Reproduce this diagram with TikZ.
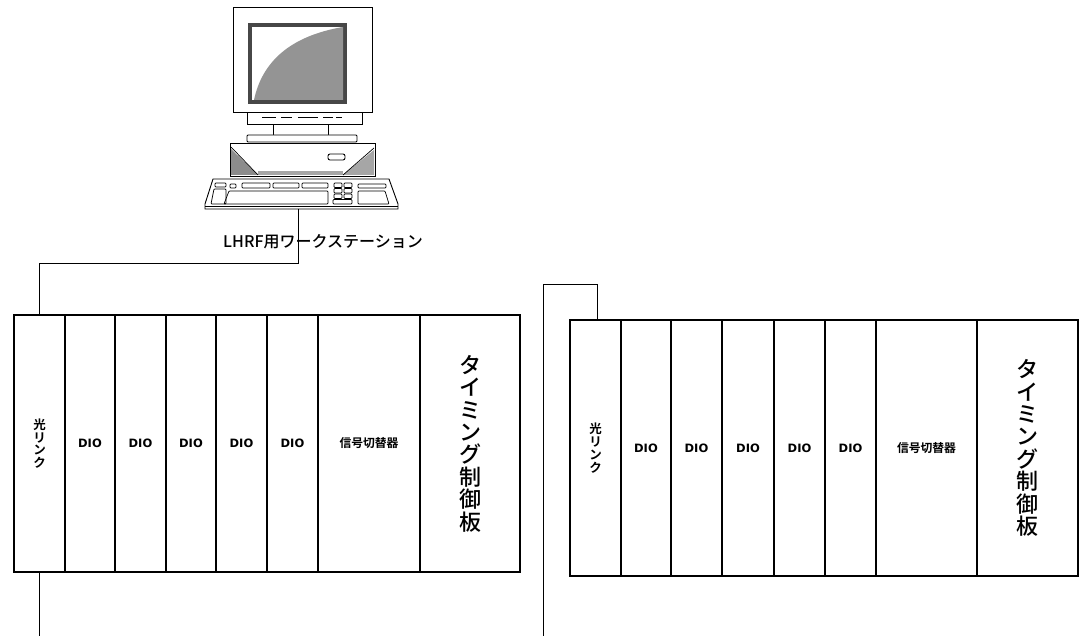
\documentclass[tikz,border=0pt]{standalone}
\usepackage{fontspec}
\newfontfamily\jpm{Noto Sans CJK JP Medium}
\newfontfamily\jpb{Noto Sans CJK JP Bold}
\newfontfamily\dv{DejaVu Sans}
\begin{document}
\begin{tikzpicture}[x=1pt,y=-1pt,
  pc/.style={draw=black,line width=0.9pt},
  keyb/.style={draw=black,line width=0.7pt,rounded corners=0.8pt},
  wire/.style={draw=black,line width=0.8pt},
  slot/.style={draw=black,line width=1.5pt,inner sep=0pt,outer sep=0pt,anchor=north west},
  rackL/.style={slot,minimum height=257pt},
  rackR/.style={slot,minimum height=256pt},
  diolbl/.style={font=\dv\bfseries\fontsize{11.5}{13}\selectfont},
  swlbl/.style={font=\jpb\fontsize{11.8}{13}\selectfont},
  linklbl/.style={font=\jpb\fontsize{12.5}{12.8}\selectfont,align=center},
  timlbl/.style={font=\jpm\fontsize{22}{22.4}\selectfont,align=center},
]
\useasboundingbox (0,0) rectangle (1080,636);
\fill[white] (0,0) rectangle (1080,636);

% ---------- workstation: monitor ----------
\draw[pc,fill=white] (233,7) rectangle (372,112);
\fill[black!72] (248,23) rectangle (347,104);
\fill[white] (252,27) rectangle (343,100);
\fill[black!42] (254,100) .. controls (262,62) and (290,36) .. (343,27) -- (343,100) -- cycle;
\draw[pc,fill=white] (247,112) rectangle (362,124);
\foreach \xa/\xb in {262/276,281/292,298/318,323/333,336/342}
  \draw[line width=1.4pt] (\xa,117.5) -- (\xb,117.5);
\draw[pc,fill=white] (273,124) rectangle (328,135);
\draw[pc,fill=white,rounded corners=1pt] (247,135) rectangle (357,142);

% ---------- workstation: system unit ----------
\draw[pc,fill=white] (230,143) rectangle (375,176);
\fill[black!45] (231,149) -- (258,175) -- (231,175) -- cycle;
\fill[black!35] (374,150) -- (374,175) -- (343,175) -- cycle;
\fill[black!35] (258,171) rectangle (343,175);
\draw[line width=0.7pt] (231,147) -- (258,175);
\draw[line width=0.7pt] (374,148) -- (343,175);
\draw[pc,rounded corners=2pt] (328,154) rectangle (345,160);

% ---------- workstation: keyboard ----------
\draw[pc,fill=white] (213,179) -- (389,179) -- (398,204) -- (398,209) -- (205,209) -- (205,204) -- cycle;
\draw[line width=0.7pt] (205,206) -- (398,206);
\draw[keyb] (215,183) rectangle (226,187);
\draw[keyb] (214,189) -- (226,189) -- (226,204) -- (211,204) -- cycle;
\draw[keyb] (230,184) rectangle (236,188);
\draw[keyb] (242,183) rectangle (270,188);
\draw[keyb] (273,183) rectangle (299,188);
\draw[keyb] (302,183) rectangle (328,188);
\draw[keyb] (229,191) -- (328,191) -- (328,204) -- (224,204) -- cycle;
\foreach \yy in {183,188.5,194}{
  \draw[keyb] (334,\yy) rectangle (342,\yy+4.5);
  \draw[keyb] (344,\yy) rectangle (352,\yy+4.5);
}
\draw[keyb] (333,199.5) rectangle (352,204);
\draw[keyb] (358,184) rectangle (386,188);
\draw[keyb] (358,191) -- (385,191) -- (389,204) -- (358,204) -- cycle;

\coordinate (wsport) at (298,209);

% ---------- left rack ----------
\node[rackL,minimum width=51pt]  (lk1) at (14,315)  {};
\node[linklbl] at (lk1.center) {光\\リ\\ン\\ク};
\node[rackL,minimum width=50pt]  (ld1) at (65,315)  {};
\node[rackL,minimum width=51pt]  (ld2) at (115,315) {};
\node[rackL,minimum width=50pt]  (ld3) at (166,315) {};
\node[rackL,minimum width=51pt]  (ld4) at (216,315) {};
\node[rackL,minimum width=51pt]  (ld5) at (267,315) {};
\node[rackL,minimum width=102pt] (lsw) at (318,315) {};
\node[rackL,minimum width=100pt] (ltm) at (420,315) {};
\foreach \n in {ld1,ld2,ld3,ld4,ld5}
  \node[diolbl] at (\n.center) {DIO};
\node[swlbl] at (lsw.center) {信号切替器};
\node[timlbl] at (ltm.center) {タ\\イ\\ミ\\ン\\グ\\制\\御\\板};

% ---------- right rack ----------
\node[rackR,minimum width=51pt]  (rk1) at (570,320) {};
\node[linklbl] at (rk1.center) {光\\リ\\ン\\ク};
\node[rackR,minimum width=50pt]  (rd1) at (621,320) {};
\node[rackR,minimum width=51pt]  (rd2) at (671,320) {};
\node[rackR,minimum width=52pt]  (rd3) at (722,320) {};
\node[rackR,minimum width=51pt]  (rd4) at (774,320) {};
\node[rackR,minimum width=51pt]  (rd5) at (825,320) {};
\node[rackR,minimum width=101pt] (rsw) at (876,320) {};
\node[rackR,minimum width=101pt] (rtm) at (977,320) {};
\foreach \n in {rd1,rd2,rd3,rd4,rd5}
  \node[diolbl] at (\n.center) {DIO};
\node[swlbl] at (rsw.center) {信号切替器};
\node[timlbl] at (rtm.center) {タ\\イ\\ミ\\ン\\グ\\制\\御\\板};

% ---------- cabling ----------
\coordinate (lout) at (39.5,636);
\coordinate (rin) at (543,636);
\draw[wire] (wsport) -- ++(0,54) -| (lk1.north);
\draw[wire] (lk1.south) -- (lout);
\draw[wire] (rin) -- ++(0,-352) -| ([xshift=1.5pt]rk1.north);

% ---------- workstation caption ----------
\node[font=\jpm\fontsize{16}{18}\selectfont] (wslabel) at (323,242) {LHRF用ワークステーション};
\end{tikzpicture}
\end{document}
